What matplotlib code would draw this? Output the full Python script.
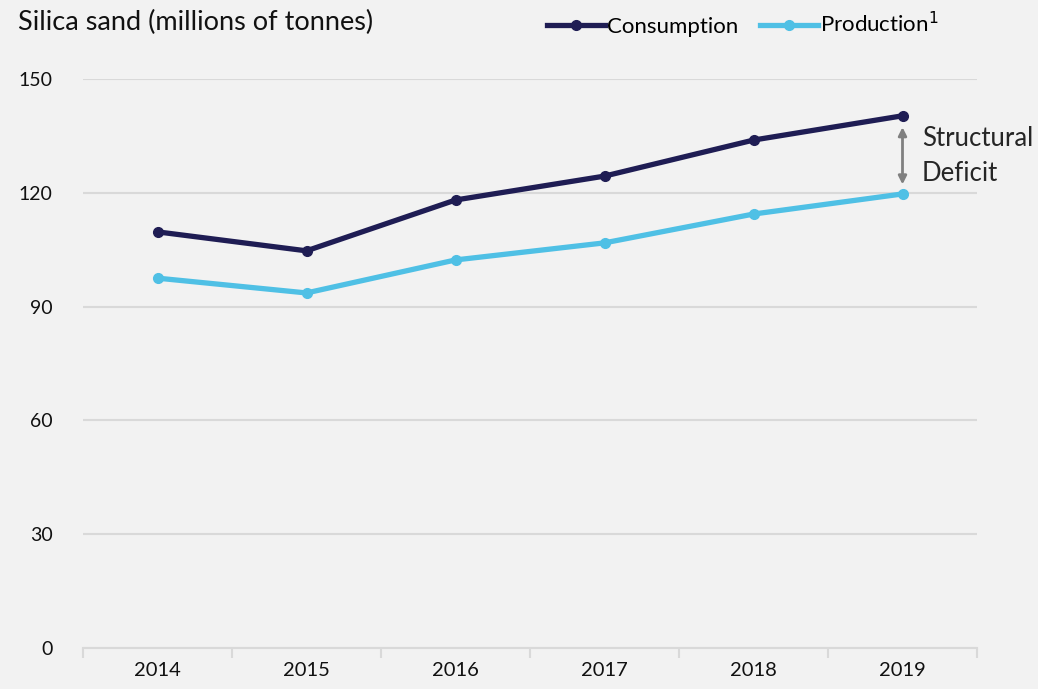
import matplotlib
matplotlib.use("Agg")
import matplotlib.pyplot as plt
from matplotlib.lines import Line2D

years = ["2014", "2015", "2016", "2017", "2018", "2019"]
consumption = [109.7, 104.7, 118.1, 124.4, 133.9, 140.3]
production = [97.5, 93.6, 102.3, 106.8, 114.4, 119.7]
yticks = [0, 30, 60, 90, 120, 150]

plt.rcParams['font.family'] = ['Lato', 'DejaVu Sans']
bg = "#F2F2F2"
navy = "#1F1D54"
light = "#4FC0E5"
grid = "#D9D9D9"

fig = plt.figure(figsize=(10.38, 6.89), dpi=100, facecolor=bg)
ax = fig.add_axes([83/1038, 1-648/689, 894/1038, (648-79)/689], facecolor=bg)

x = list(range(len(years)))
ax.plot(x, consumption, color=navy, lw=3.8, marker="o", ms=7, solid_capstyle="round", zorder=3)
ax.plot(x, production, color=light, lw=3.8, marker="o", ms=7, solid_capstyle="round", zorder=3)

ax.set_xlim(-0.5, len(years) - 0.5)
ax.set_ylim(0, 150)
ax.set_yticks(yticks)
ax.set_yticklabels([str(v) for v in yticks], fontsize=14, color="#111111")
ax.set_xticks(x)
ax.set_xticklabels(years, fontsize=14.5, color="#111111")
ax.set_xticks([i - 0.5 for i in range(len(years) + 1)], minor=True)
ax.tick_params(axis="x", which="major", length=0, pad=10)
ax.tick_params(axis="x", which="minor", length=7, width=1.5, color=grid)
ax.tick_params(axis="y", length=0, pad=22)
ax.yaxis.grid(True, color=grid, lw=1.5)
ax.set_axisbelow(True)
for s in ["top", "right", "left"]:
    ax.spines[s].set_visible(False)
ax.spines["bottom"].set_color(grid)
ax.spines["bottom"].set_linewidth(1.5)

# annotation arrow
ax.annotate("", xy=(5, consumption[-1] - 3), xytext=(5, production[-1] + 2.5),
            arrowprops=dict(arrowstyle="<|-|>", color="#808080", lw=2, mutation_scale=12,
                            shrinkA=0, shrinkB=0))
ax.text(5.13, (consumption[-1] + production[-1]) / 2 - 0.3, "Structural\nDeficit",
        fontsize=18.5, color="#262626", va="center", ha="left", linespacing=1.5)

fig.text(18/1038, 1-22/689, "Silica sand (millions of tonnes)", fontsize=19.5,
         color="#111111", va="center", ha="left")

handles = [Line2D([0], [0], color=navy, lw=3.8, marker="o", ms=7),
           Line2D([0], [0], color=light, lw=3.8, marker="o", ms=7)]
leg = fig.legend(handles, ["Consumption", "Production$^{1}$"], loc="center",
                 bbox_to_anchor=(743/1038, 1-24/689), ncol=2, frameon=False,
                 fontsize=16, handlelength=2.6, handletextpad=0.1, columnspacing=1.0)

fig.savefig("out.png", dpi=100, facecolor=bg)
